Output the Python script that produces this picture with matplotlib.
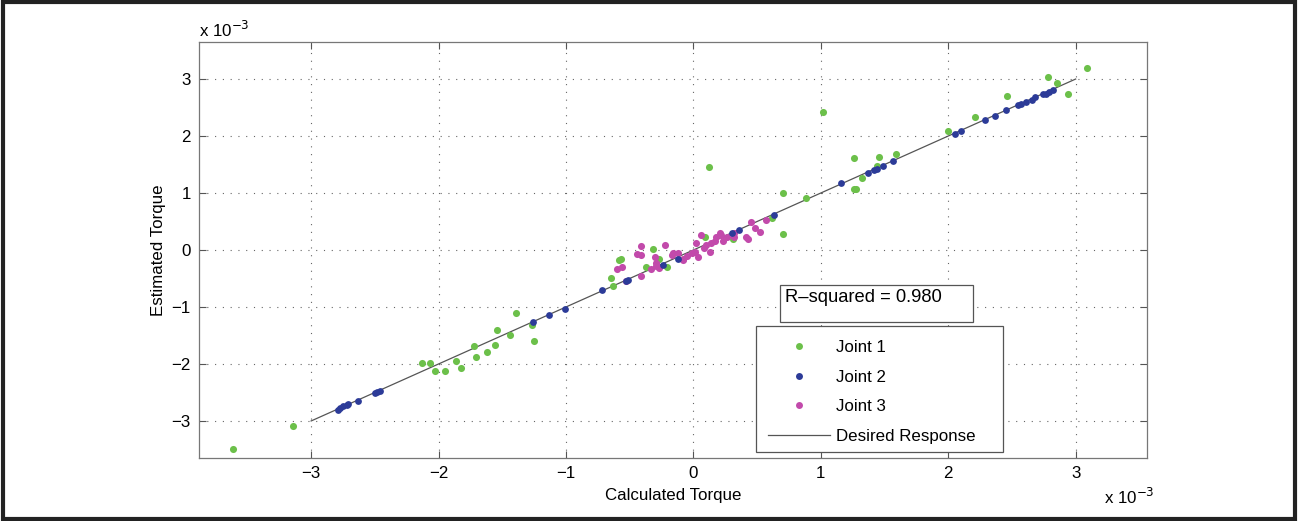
import matplotlib
matplotlib.use('Agg')
import matplotlib.pyplot as plt
from matplotlib.patches import Rectangle
from matplotlib.lines import Line2D

plt.rcParams['font.family'] = ['Liberation Sans', 'DejaVu Sans']

# values in units of 1e-3
joint1_x = [-3.61, -3.14, -2.13, -2.07, -2.03, -1.95, -1.86, -1.82, -1.72, -1.71, -1.62, -1.56,
            -1.54, -1.44, -1.39, -1.27, -1.25, -0.65, -0.63, -0.58, -0.57, -0.37, -0.32, -0.27,
            -0.21, 0.09, 0.12, 0.31, 0.62, 0.70, 0.70, 0.88, 1.02, 1.26, 1.26, 1.28, 1.32, 1.44,
            1.46, 1.59, 2.00, 2.21, 2.46, 2.78, 2.85, 2.94, 3.09]
joint1_y = [-3.50, -3.09, -1.98, -1.98, -2.12, -2.12, -1.95, -2.07, -1.69, -1.88, -1.79, -1.67,
            -1.40, -1.50, -1.10, -1.32, -1.60, -0.50, -0.63, -0.17, -0.16, -0.29, 0.02, -0.15,
            -0.29, 0.23, 1.45, 0.19, 0.56, 1.00, 0.28, 0.92, 2.42, 1.61, 1.07, 1.07, 1.26, 1.47,
            1.64, 1.69, 2.09, 2.33, 2.71, 3.04, 2.93, 2.74, 3.19]

joint2_x = [-2.79, -2.77, -2.75, -2.72, -2.71, -2.63, -2.50, -2.48, -2.46, -1.26, -1.13, -1.01,
            -0.72, -0.53, -0.51, -0.24, -0.12, 0.30, 0.36, 0.63, 1.16, 1.37, 1.42, 1.44, 1.49,
            1.57, 2.05, 2.10, 2.29, 2.37, 2.45, 2.55, 2.57, 2.61, 2.66, 2.68, 2.74, 2.77, 2.79,
            2.82]
joint2_y = [-2.81, -2.77, -2.74, -2.72, -2.71, -2.65, -2.51, -2.49, -2.48, -1.26, -1.14, -1.03,
            -0.71, -0.54, -0.52, -0.26, -0.15, 0.29, 0.35, 0.61, 1.17, 1.35, 1.40, 1.43, 1.47,
            1.57, 2.04, 2.09, 2.28, 2.35, 2.45, 2.55, 2.56, 2.59, 2.63, 2.68, 2.73, 2.74, 2.77,
            2.81]

joint3_x = [-0.60, -0.56, -0.53, -0.41, -0.44, -0.41, -0.41, -0.33, -0.29, -0.27, -0.22, -0.17,
            -0.12, -0.08, -0.05, -0.01, 0.01, 0.02, 0.04, 0.06, 0.08, 0.10, 0.13, 0.14, 0.17,
            0.18, 0.22, 0.23, 0.26, 0.32, 0.32, 0.41, 0.43, 0.45, 0.48, 0.52, 0.57, -0.30,
            -0.16, -0.08, 0.21, -0.29]
joint3_y = [-0.34, -0.29, -0.55, -0.45, -0.07, -0.09, 0.07, -0.34, -0.23, -0.32, 0.09, -0.09,
            -0.06, -0.15, -0.11, -0.06, -0.03, 0.12, -0.12, 0.26, 0.03, 0.09, -0.03, 0.12, 0.15,
            0.22, 0.26, 0.15, 0.23, 0.23, 0.30, 0.23, 0.19, 0.50, 0.38, 0.31, 0.52, -0.12,
            -0.06, -0.17, 0.29, -0.28]

line_x = [-3, 3]
line_y = [-3, 3]
r_squared = 0.980

green = '#6cc04a'
blue = '#2c3b98'
magenta = '#c24aab'
W, H = 1298, 521
fs = 12.2

fig = plt.figure(figsize=(W / 100, H / 100), dpi=100)
ax = fig.add_axes([199 / W, 1 - 458 / H, 948 / W, 416 / H])

ax.plot(line_x, line_y, color='#555555', lw=0.9, zorder=2)
ax.scatter(joint1_x, joint1_y, s=26, color=green, lw=0, zorder=3)
ax.scatter(joint2_x, joint2_y, s=24, color=blue, lw=0, zorder=4)
ax.scatter(joint3_x, joint3_y, s=26, color=magenta, lw=0, zorder=3)

ax.set_xlim(-3.88, 3.56)
ax.set_ylim(-3.65, 3.65)
ax.set_xticks([-3, -2, -1, 0, 1, 2, 3])
ax.set_yticks([-3, -2, -1, 0, 1, 2, 3])
ax.set_xticklabels(['\u22123', '\u22122', '\u22121', '0', '1', '2', '3'])
ax.set_yticklabels(['\u22123', '\u22122', '\u22121', '0', '1', '2', '3'])
ax.tick_params(direction='in', top=True, right=True, length=5, width=0.8,
               color='#555555', labelsize=fs, pad=6)
for sp in ax.spines.values():
    sp.set_color('#777777')
    sp.set_linewidth(0.9)
ax.grid(True, linestyle=(0, (1, 6)), color='#666666', lw=0.8)

ax.set_xlabel('Calculated Torque', fontsize=fs, labelpad=5)
ax.set_ylabel('Estimated Torque', fontsize=fs, labelpad=4)
fig.text(199 / W, 1 - 30 / H, r'x 10$^{-3}$', fontsize=fs, va='center', ha='left')
fig.text(1104 / W, 1 - 497 / H, r'x 10$^{-3}$', fontsize=fs, va='center', ha='left')

# R-squared box
rbox = Rectangle((780 / W, 1 - 322 / H), 193 / W, 37 / H, transform=fig.transFigure,
                 facecolor='white', edgecolor='#555555', lw=0.9, zorder=5)
fig.patches.append(rbox)
fig.text(785 / W, 1 - 298 / H, 'R\u2013squared = %.3f' % r_squared, fontsize=13.2,
         va='center', ha='left', zorder=6)

# legend frame drawn by hand, entries by the legend
lbox = Rectangle((756 / W, 1 - 452 / H), 247 / W, 126 / H, transform=fig.transFigure,
                 facecolor='white', edgecolor='#555555', lw=0.9, zorder=5)
fig.patches.append(lbox)
handles = [
    Line2D([], [], ls='none', marker='o', ms=5, color=green, mec='none'),
    Line2D([], [], ls='none', marker='o', ms=5, color=blue, mec='none'),
    Line2D([], [], ls='none', marker='o', ms=5, color=magenta, mec='none'),
    Line2D([], [], color='#555555', lw=0.9),
]
leg = fig.legend(handles, ['Joint 1', 'Joint 2', 'Joint 3', 'Desired Response'],
                 loc='center left', bbox_to_anchor=(768 / W, 1 - 392 / H),
                 borderaxespad=0, borderpad=0, fontsize=fs, handlelength=3.67,
                 handletextpad=0.36, labelspacing=0.87, frameon=False)
leg.set_zorder(6)

# outer frame
frame = Rectangle((0.002, 0.004), 0.996, 0.992, transform=fig.transFigure, fill=False,
                  edgecolor='#222222', lw=3)
fig.patches.append(frame)

fig.savefig('out.png', dpi=100)
